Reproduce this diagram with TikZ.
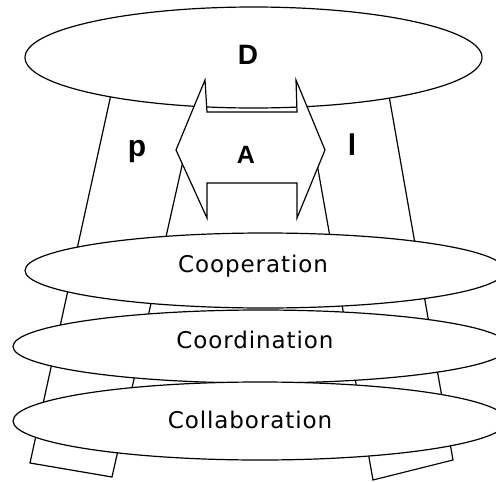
\documentclass[tikz,border=0pt]{standalone}
\usepackage{fontspec}
\setmainfont{Liberation Sans}
\newfontfamily\lblfont[LetterSpace=4]{DejaVu Sans}
\begin{document}
\begin{tikzpicture}[x=1pt,y=-1pt,
  shapeline/.style={draw=black, fill=white, line width=1.2pt, line join=miter},
  bigletter/.style={font=\fontsize{28}{30}\selectfont\bfseries, inner sep=0pt, anchor=base},
  sideletter/.style={font=\fontsize{30}{32}\selectfont\bfseries, inner sep=0pt, anchor=base},
  midletter/.style={font=\fontsize{25}{28}\selectfont\bfseries, inner sep=0pt, anchor=base},
  levellabel/.style={font=\lblfont\fontsize{23}{26}\selectfont, inner sep=0pt, anchor=base}]
\useasboundingbox (0,0) rectangle (496,482);
% pillars
\coordinate (lp1) at (112,90);
\coordinate (lp2) at (199,90);
\coordinate (lp3) at (112,477);
\coordinate (lp4) at (30,463);
\coordinate (rp1) at (304,90);
\coordinate (rp2) at (388,90);
\coordinate (rp3) at (453,460);
\coordinate (rp4) at (373,480);
\draw[shapeline] (lp1) -- (lp2) -- (lp3) -- (lp4) -- cycle;
\draw[shapeline] (rp1) -- (rp2) -- (rp3) -- (rp4) -- cycle;
% top ellipse D
\draw[shapeline] (253.5,57.5) ellipse [x radius=228.5pt, y radius=50.5pt];
% double arrow A
\coordinate (a1) at (205,80);
\coordinate (a2) at (207,112);
\coordinate (a3) at (297,112);
\coordinate (a4) at (296,80);
\coordinate (a5) at (325,150);
\coordinate (a6) at (297,218);
\coordinate (a7) at (297,183);
\coordinate (a8) at (207,183);
\coordinate (a9) at (207,218);
\coordinate (a10) at (176,150);
\draw[shapeline] (a1) -- (a2) -- (a3) -- (a4) -- (a5) -- (a6) -- (a7) -- (a8) -- (a9) -- (a10) -- cycle;
% level ellipses
\draw[shapeline] (265,270.5) ellipse [x radius=240pt, y radius=37.5pt];
\draw[shapeline] (261,346.5) ellipse [x radius=248pt, y radius=36.5pt];
\draw[shapeline] (260,421) ellipse [x radius=247pt, y radius=39pt];
% labels
\node[bigletter] (D) at (248,64) {D};
\node[sideletter] (p) at (137,156) {p};
\node[sideletter] (l) at (352,155) {l};
\node[midletter] (A) at (246,163) {A};
\node[levellabel] (coop) at (253,272) {Cooperation};
\node[levellabel] (coord) at (255,348) {Coordination};
\node[levellabel] (coll) at (250,428) {Collaboration};
\end{tikzpicture}
\end{document}
